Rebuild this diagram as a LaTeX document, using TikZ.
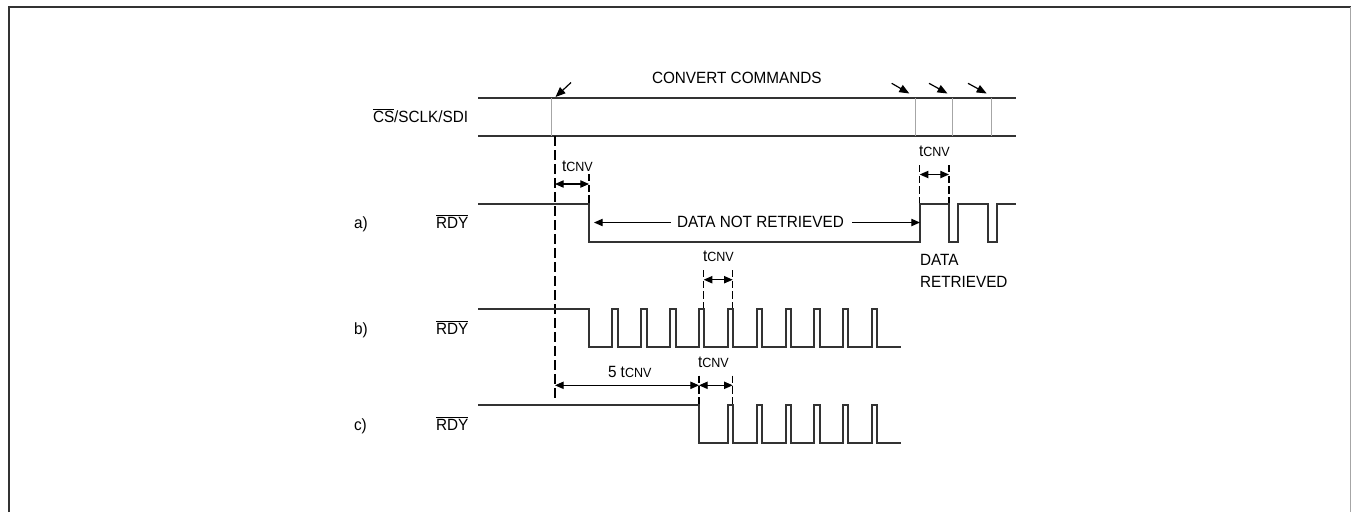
\documentclass[tikz,border=0pt]{standalone}
\usepackage{fontspec}
\setmainfont[FakeStretch=0.94]{Liberation Sans}
\usetikzlibrary{arrows.meta}
\newcommand{\tcnv}{t{\fontsize{10pt}{10pt}\selectfont CNV}}
\newcommand{\ovl}[1]{$\overline{\hbox{#1}}$}
\tikzset{
  x=0.75pt,y=-0.75pt,
  every node/.style={font=\fontsize{12.2pt}{14pt}\selectfont,inner sep=0pt,outer sep=0pt},
  sig/.style={line width=1.15pt,black!80,line join=miter},
  tickline/.style={line width=0.75pt,gray!70},
  dim/.style={line width=0.8pt,{Triangle[length=6.5pt,width=5.5pt]}-{Triangle[length=6.5pt,width=5.5pt]}},
  lead/.style={line width=0.8pt,-{Triangle[length=6.5pt,width=5.5pt]}},
  diag/.style={line width=0.9pt,-{Triangle[length=7.5pt,width=6pt]}},
  guide/.style={line width=0.8pt,dash pattern=on 5.5pt off 2.5pt},
  longguide/.style={line width=1pt,dash pattern=on 7.5pt off 3pt},
  lbl/.style={anchor=base west},
}
\begin{document}
\begin{tikzpicture}
\useasboundingbox (0,0) rectangle (1351,512);
\fill[white] (0,0) rectangle (1351,512);
\draw[sig] (9,512) -- (9,7) -- (1350.5,7);
\draw[line width=0.8pt,gray!70] (1350.5,7) -- (1350.5,512);

% bus
\draw[sig] (478,98) -- (1016,98);
\draw[sig] (478,136) -- (1016,136);
\foreach \x in {551.7,915.3,952.7,991.7} \draw[tickline] (\x,98) -- (\x,136);

% long guide
\coordinate (gtop) at (555,136);
\coordinate (gbot) at (555,402);
\draw[longguide] (gtop) -- (gbot);

% waveforms
\draw[sig] (478,204) -- (589,204) -- (589,242) -- (920,242) -- (920,204) -- (949,204)
  -- (949,242) -- (958,242) -- (958,204) -- (988,204) -- (988,242)
  -- (997,242) -- (997,204) -- (1016,204);
\draw[sig] (478,309) -- (589,309) -- (589,347)
  \foreach \r/\f in {612/618,641/647,670/676,699/704,728/733,757/762,786/791,814/820,843/848,872/877}
   { -- (\r,347) -- (\r,309) -- (\f,309) -- (\f,347) } -- (901,347);
\draw[sig] (478,405) -- (699,405) -- (699,443)
  \foreach \r/\f in {728/733,757/762,786/791,814/820,843/848,872/877}
   { -- (\r,443) -- (\r,405) -- (\f,405) -- (\f,443) } -- (901,443);

% guides
\draw[guide] (589,174) -- (589,203);
\draw[guide] (919.7,165) -- (919.7,203);
\draw[guide] (949,165) -- (949,203);
\draw[guide] (703.7,270) -- (703.7,308);
\draw[guide] (732.7,270) -- (732.7,308);
\draw[guide] (699,375.7) -- (699,404);
\draw[guide] (732.7,375.7) -- (732.7,404);

% dimension arrows
\coordinate (a1) at (555,184); \coordinate (a2) at (589,184);
\draw[dim] (a1) -- (a2);
\coordinate (a3) at (919.7,174.5); \coordinate (a4) at (949,174.5);
\draw[dim] (a3) -- (a4);
\coordinate (b1) at (703.7,279.7); \coordinate (b2) at (732.7,279.7);
\draw[dim] (b1) -- (b2);
\coordinate (c0) at (555,385.3); \coordinate (c1) at (699,385.3); \coordinate (c2) at (732.7,385.3);
\draw[dim] (c0) -- (c1);
\draw[dim] (c1) -- (c2);

% command arrows
\coordinate (d1) at (571,82.5); \coordinate (d1e) at (555.5,97);
\draw[diag] (d1) -- (d1e);
\coordinate (d2) at (891.7,83.3); \coordinate (d2e) at (909.3,93.5);
\draw[diag] (d2) -- (d2e);
\coordinate (d3) at (929,83.3); \coordinate (d3e) at (947.5,93.5);
\draw[diag] (d3) -- (d3e);
\coordinate (d4) at (968,83.3); \coordinate (d4e) at (986.7,93.5);
\draw[diag] (d4) -- (d4e);

% labels
\node[lbl] (conv) at (652,83.5) {CONVERT COMMANDS};
\node[lbl] (bus) at (373,122.5) {\ovl{CS}/SCLK/SDI};
\node[lbl] (la) at (354,228) {a)};
\node[lbl] (ra) at (436,228) {\ovl{RDY}};
\node[lbl] (lb) at (354,334) {b)};
\node[lbl] (rb) at (436,334) {\ovl{RDY}};
\node[lbl] (lc) at (354,430) {c)};
\node[lbl] (rc) at (436,430) {\ovl{RDY}};
\node[lbl] (t1) at (562,171.7) {\tcnv};
\node[lbl] (t2) at (919,156.7) {\tcnv};
\node[lbl] (t3) at (703,261.7) {\tcnv};
\node[lbl] (t4) at (698,367.3) {\tcnv};
\node[lbl] (t5) at (608,377.7) {5 \tcnv};
\node[lbl] (dn) at (677,227.7) {DATA NOT RETRIEVED};
\coordinate (n1) at (594,222.5); \coordinate (n2) at (920,222.5);
\draw[lead] (671,222.5) -- (n1);
\draw[lead] (852,222.5) -- (n2);
\node[lbl] (dr1) at (920,265) {DATA};
\node[lbl] (dr2) at (920,287) {RETRIEVED};
\end{tikzpicture}
\end{document}
